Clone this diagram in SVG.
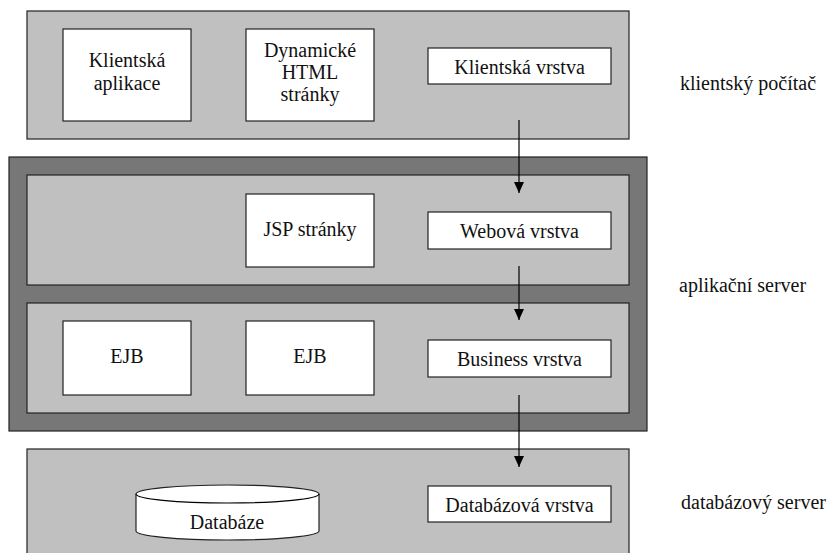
<svg xmlns="http://www.w3.org/2000/svg" width="829" height="553" viewBox="0 0 829 553">
<defs>
<style>
.layer{fill:#c0c0c0;stroke:#222;stroke-width:1.2}
.server{fill:#777;stroke:#222;stroke-width:1.2}
.box{fill:#fff;stroke:#222;stroke-width:1.2}
.t{font-family:'Liberation Serif','Times New Roman',serif;font-size:20px;fill:#111;text-anchor:middle}
.lbl{font-family:'Liberation Serif','Times New Roman',serif;font-size:20px;fill:#111}
.conn{stroke:#000;stroke-width:1.2;fill:none}
</style>
<marker id="arr" markerWidth="11" markerHeight="10" refX="11" refY="5" orient="auto" markerUnits="userSpaceOnUse" viewBox="0 0 11 10">
<path d="M0,0 L11,5 L0,10 Z" fill="#000"/>
</marker>
</defs>
<rect width="829" height="553" fill="#fff"/>
<g id="klient-pocitac">
<rect class="layer" x="27" y="11" width="602" height="128"/>
</g>
<g id="aplikacni-server">
<rect class="server" x="9" y="157" width="638" height="274"/>
</g>
<g id="web-layer"><rect class="layer" x="27" y="175" width="602" height="110"/></g>
<g id="business-layer"><rect class="layer" x="27" y="303" width="602" height="110"/></g>
<g id="db-server"><rect class="layer" x="27" y="449" width="602" height="120"/></g>

<g id="klientska-aplikace"><rect class="box" x="63" y="29" width="128" height="92"/>
<text class="t" x="127" y="67">Klientská</text><text class="t" x="127" y="90">aplikace</text></g>
<g id="dynamicke-html"><rect class="box" x="246" y="29" width="128" height="92"/>
<text class="t" x="310" y="57">Dynamické</text><text class="t" x="310" y="79">HTML</text><text class="t" x="310" y="101">stránky</text></g>
<g id="klientska-vrstva"><rect class="box" x="428" y="48" width="183" height="36"/>
<text class="t" x="519.5" y="74">Klientská vrstva</text></g>

<g id="jsp"><rect class="box" x="246" y="194" width="128" height="73"/>
<text class="t" x="310" y="236">JSP stránky</text></g>
<g id="webova-vrstva"><rect class="box" x="428" y="212" width="183" height="37"/>
<text class="t" x="519.5" y="238">Webová vrstva</text></g>

<g id="ejb1"><rect class="box" x="63" y="321" width="128" height="74"/>
<text class="t" x="127" y="363">EJB</text></g>
<g id="ejb2"><rect class="box" x="246" y="321" width="128" height="74"/>
<text class="t" x="310" y="363">EJB</text></g>
<g id="business-vrstva"><rect class="box" x="428" y="340" width="183" height="37"/>
<text class="t" x="519.5" y="366">Business vrstva</text></g>

<g id="databaze">
<path class="box" d="M136,494 A91.5,9 0 0 1 319,494 L319,531 A91.5,9 0 0 1 136,531 Z"/>
<path class="conn" d="M136,494 A91.5,9 0 0 0 319,494" stroke="#222"/>
<text class="t" x="227" y="529">Databáze</text></g>
<g id="databazova-vrstva"><rect class="box" x="428" y="486" width="183" height="36"/>
<text class="t" x="519.5" y="512">Databázová vrstva</text></g>

<g id="labels">
<text class="lbl" x="680" y="90">klientský počítač</text>
<text class="lbl" x="679" y="292">aplikační server</text>
<text class="lbl" x="681" y="509">databázový server</text>
</g>

<g id="connectors">
<line class="conn" x1="519" y1="120" x2="519" y2="193" marker-end="url(#arr)"/>
<line class="conn" x1="519" y1="266" x2="519" y2="320" marker-end="url(#arr)"/>
<line class="conn" x1="519" y1="395" x2="519" y2="467" marker-end="url(#arr)"/>
</g>
</svg>
